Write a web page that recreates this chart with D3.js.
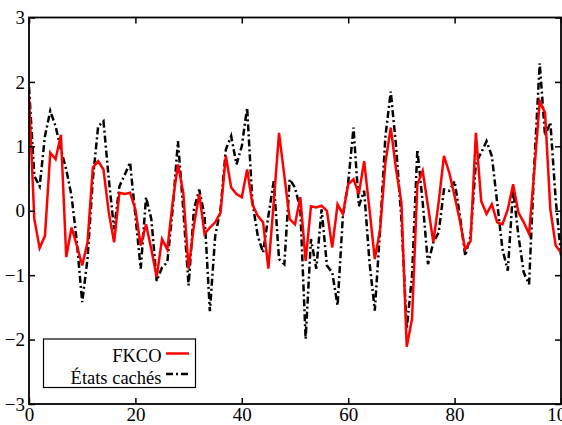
<!DOCTYPE html>
<html>
<head>
<meta charset="utf-8">
<script src="https://cdn.jsdelivr.net/npm/d3@7"></script>
<style>
  html, body { margin: 0; padding: 0; background: #fff; }
  svg { display: block; }
</style>
</head>
<body>
<svg id="chart" width="562" height="425"></svg>
<script>
// ---- data ----
const seriesNames = ["FKCO", "États cachés"];
const xTicks = [0, 20, 40, 60, 80, 100];
const yTicks = [-3, -2, -1, 0, 1, 2, 3];
const fkco = [
  1.78, -0.13, -0.58, -0.39, 0.90, 0.80, 1.18, -0.72, -0.26, -0.54,
  -0.85, -0.49, 0.67, 0.77, 0.64, -0.03, -0.49, 0.28, 0.26, 0.28,
  0.02, -0.54, -0.21, -0.60, -1.03, -0.44, -0.60, 0.13, 0.72, 0.28,
  -0.90, -0.23, 0.26, -0.36, -0.26, -0.18, -0.03, 0.85, 0.36, 0.26,
  0.21, 0.64, 0.10, -0.08, -0.18, -0.90, 0.13, 1.21, 0.54, -0.13,
  -0.21, 0.21, -0.78, 0.07, 0.05, 0.08, 0.00, -0.57, 0.10, -0.05,
  0.41, 0.49, 0.26, 0.77, 0.02, -0.75, -0.29, 0.75, 1.29, 0.64,
  0.13, -2.11, -1.68, 0.41, 0.62, 0.07, -0.49, 0.13, 0.85, 0.59,
  0.23, -0.16, -0.60, -0.47, 1.21, 0.15, -0.05, 0.10, -0.18, -0.21,
  0.02, 0.41, -0.03, -0.18, -0.36, 0.64, 1.70, 1.52, 0.02, -0.54,
  -0.65
];
const etats = [
  1.92, 0.54, 0.38, 1.16, 1.55, 1.31, 0.95, 0.64, 0.23, -0.49,
  -1.42, -0.75, 0.49, 1.31, 1.39, 0.49, -0.29, 0.38, 0.56, 0.75,
  -0.08, -0.90, 0.21, -0.13, -1.09, -0.88, -0.80, 0.02, 1.08, 0.02,
  -1.16, 0.02, 0.33, -0.08, -1.56, -0.39, 0.02, 0.95, 1.16, 0.72,
  1.00, 1.60, 0.13, -0.39, -0.65, -0.08, 0.46, -0.75, -0.83, 0.49,
  0.36, 0.02, -1.99, -0.44, -0.90, 0.02, -0.85, -0.96, -1.47, -0.08,
  0.44, 1.29, 0.07, 0.31, -0.80, -1.55, -0.29, 1.16, 1.85, 1.00,
  -0.13, -1.83, -1.01, 0.95, 0.13, -0.83, -0.49, -0.34, 0.33, 0.31,
  0.46, -0.08, -0.70, -0.39, 0.75, 0.90, 1.08, 0.85, 0.13, -0.60,
  -0.93, 0.33, -0.39, -0.96, -1.14, 0.75, 2.29, 1.16, 1.37, 0.18,
  -0.70
];

// ---- layout ----
const FONT = "'Liberation Serif', Tinos, 'Times New Roman', Times, 'DejaVu Serif', serif";
const svg = d3.select("#chart");
const L = 29, R = 561, T = 17.5, B = 404;
const x = d3.scaleLinear().domain([0, 100]).range([L, R]);
const y = d3.scaleLinear().domain([-3, 3]).range([B, T]);
const fontSize = 19;

svg.append("defs").append("clipPath").attr("id", "clip")
  .append("rect").attr("x", L).attr("y", T).attr("width", R - L).attr("height", B - T);

const line = d3.line().x((d, i) => x(i)).y(d => y(d));

const plot = svg.append("g").attr("clip-path", "url(#clip)");
plot.append("path").datum(etats)
  .attr("d", line).attr("fill", "none").attr("stroke", "#000")
  .attr("stroke-width", 2.5).attr("stroke-dasharray", "7,3,2,3");
plot.append("path").datum(fkco)
  .attr("d", line).attr("fill", "none").attr("stroke", "#ff0000")
  .attr("stroke-width", 2.5);

// ---- axes ----
function styleAxis(g) {
  g.attr("font-family", FONT).attr("font-size", fontSize);
  g.select(".domain").remove();
  g.selectAll(".tick line").attr("stroke", "#000").attr("stroke-width", 1.5);
  g.selectAll(".tick text").attr("fill", "#000");
}
svg.append("g").attr("transform", `translate(0,${B})`)
  .call(d3.axisBottom(x).tickValues(xTicks).tickSize(-6).tickPadding(4).tickFormat(d3.format("d")))
  .call(styleAxis);
svg.append("g").attr("transform", `translate(0,${T})`)
  .call(d3.axisTop(x).tickValues(xTicks).tickSize(-6).tickFormat(""))
  .call(styleAxis);
svg.append("g").attr("transform", `translate(${L},0)`)
  .call(d3.axisLeft(y).tickValues(yTicks).tickSize(-6).tickPadding(4).tickFormat(d3.format("d")))
  .call(styleAxis);
svg.append("g").attr("transform", `translate(${R},0)`)
  .call(d3.axisRight(y).tickValues(yTicks).tickSize(-6).tickFormat(""))
  .call(styleAxis);

// frame
svg.append("rect").attr("x", L).attr("y", T).attr("width", R - L).attr("height", B - T)
  .attr("fill", "none").attr("stroke", "#000").attr("stroke-width", 1.8);

// ---- legend ----
const lg = svg.append("g").attr("font-family", FONT).attr("font-size", 18.5);
lg.append("rect").attr("x", 43.5).attr("y", 339).attr("width", 152).attr("height", 48.5)
  .attr("fill", "#fff").attr("stroke", "#000").attr("stroke-width", 1.2);
const legendItems = [
  { name: seriesNames[0], color: "#ff0000", dash: null, ty: 361.5, ly: 353.5 },
  { name: seriesNames[1], color: "#000", dash: "7,3,2,3", ty: 383.5, ly: 374 }
];
legendItems.forEach(it => {
  lg.append("text").attr("x", 161.5).attr("y", it.ty).attr("text-anchor", "end")
    .attr("fill", "#000").text(it.name);
  lg.append("line").attr("x1", 166).attr("x2", 189).attr("y1", it.ly).attr("y2", it.ly)
    .attr("stroke", it.color).attr("stroke-width", 2.5)
    .attr("stroke-dasharray", it.dash);
});
</script>
</body>
</html>
